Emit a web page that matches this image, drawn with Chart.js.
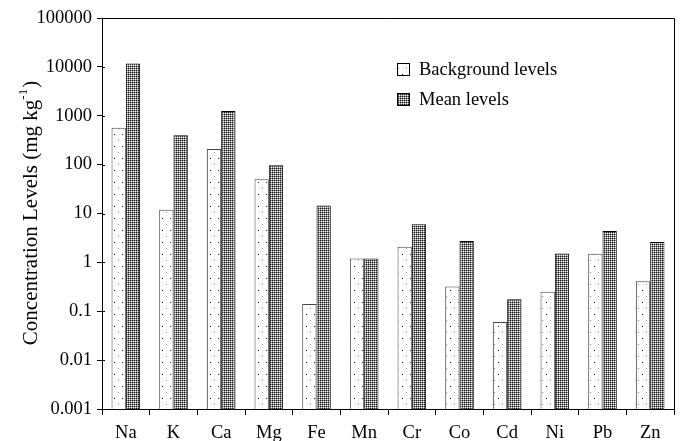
<!DOCTYPE html>
<html>
<head>
<meta charset="utf-8">
<script src="https://cdn.jsdelivr.net/npm/chart.js@4"></script>
<style>
  html, body { margin: 0; padding: 0; background: #fff; }
  #wrap { width: 688px; height: 441px; }
</style>
</head>
<body>
<div id="wrap"><canvas id="barChart" width="688" height="441"></canvas></div>
<script>
// values (mg/kg)
var elements = ["Na", "K", "Ca", "Mg", "Fe", "Mn", "Cr", "Co", "Cd", "Ni", "Pb", "Zn"];
var backgroundLevels = [570, 12, 210, 50, 0.14, 1.2, 2.1, 0.32, 0.06, 0.25, 1.5, 0.41];
var meanLevels = [11700, 400, 1250, 97, 14.5, 1.2, 6.0, 2.75, 0.175, 1.52, 4.4, 2.6];
var yTicks = [0.001, 0.01, 0.1, 1, 10, 100, 1000, 10000, 100000];
var yTickLabels = ["0.001", "0.01", "0.1", "1", "10", "100", "1000", "10000", "100000"];

var FONT = "'Liberation Serif', 'Times New Roman', serif";

// dotted fill for background levels
function dotPattern() {
    var c = document.createElement("canvas");
    c.width = 8; c.height = 12;
    var g = c.getContext("2d");
    g.fillStyle = "#fff";
    g.fillRect(0, 0, 8, 12);
    g.fillStyle = "#222";
    g.fillRect(2, 2, 1, 1);
    g.fillStyle = "#888";
    g.fillRect(6, 8, 1, 1);
    return g.createPattern(c, "repeat");
}

// grey checker fill for mean levels
function checkPattern() {
    var c = document.createElement("canvas");
    c.width = 4; c.height = 4;
    var g = c.getContext("2d");
    g.fillStyle = "#8a8a8a";
    g.fillRect(0, 0, 4, 4);
    g.fillStyle = "#1a1a1a";
    g.fillRect(0, 0, 1, 1); g.fillRect(2, 2, 1, 1);
    g.fillRect(2, 0, 1, 1); g.fillRect(0, 2, 1, 1);
    g.fillStyle = "#f2f2f2";
    g.fillRect(1, 1, 1, 1); g.fillRect(3, 3, 1, 1);
    g.fillRect(3, 1, 1, 1); g.fillRect(1, 3, 1, 1);
    return g.createPattern(c, "repeat");
}

var bgFill = dotPattern();
var meanFill = checkPattern();

var extras = {
    id: "extras",
    afterDraw: function(chart) {
        var ctx = chart.ctx;
        var a = chart.chartArea;
        var ys = chart.scales.y;
        ctx.save();
        ctx.strokeStyle = "#000";
        ctx.lineWidth = 1;
        // top and right frame
        ctx.beginPath();
        ctx.moveTo(a.left, a.top + 0.5);
        ctx.lineTo(a.right + 0.5, a.top + 0.5);
        ctx.lineTo(a.right + 0.5, a.bottom);
        ctx.stroke();
        // inner part of y ticks
        ctx.beginPath();
        ys.ticks.forEach(function(t) {
            var py = Math.round(ys.getPixelForValue(t.value)) + 0.5;
            ctx.moveTo(a.left, py);
            ctx.lineTo(a.left + 3, py);
        });
        ctx.stroke();

        // y title with superscript
        ctx.fillStyle = "#000";
        ctx.translate(37, (a.top + a.bottom) / 2);
        ctx.rotate(-Math.PI / 2);
        var main = "Concentration Levels (mg kg";
        ctx.font = "21px " + FONT;
        var w1 = ctx.measureText(main).width;
        ctx.font = "13px " + FONT;
        var w2 = ctx.measureText("-1").width;
        ctx.font = "21px " + FONT;
        var w3 = ctx.measureText(")").width;
        var x0 = -(w1 + w2 + w3) / 2;
        ctx.textBaseline = "alphabetic";
        ctx.textAlign = "left";
        ctx.fillText(main, x0, 0);
        ctx.font = "13px " + FONT;
        ctx.fillText("-1", x0 + w1, -10);
        ctx.font = "21px " + FONT;
        ctx.fillText(")", x0 + w1 + w2 + 1, 0);
        ctx.restore();

        // legend
        ctx.save();
        var items = [
            { label: chart.data.datasets[0].label, fill: bgFill, y: 63 },
            { label: chart.data.datasets[1].label, fill: meanFill, y: 93 }
        ];
        ctx.font = "18.5px " + FONT;
        ctx.textBaseline = "middle";
        ctx.textAlign = "left";
        items.forEach(function(it) {
            ctx.fillStyle = it.fill;
            ctx.fillRect(397, it.y, 13, 13);
            ctx.strokeStyle = "#000";
            ctx.strokeRect(397.5, it.y + 0.5, 12, 12);
            ctx.fillStyle = "#000";
            ctx.fillText(it.label, 419, it.y + 7);
        });
        ctx.restore();
    }
};

var ctx = document.getElementById("barChart");
var myChart = new Chart(ctx, {
    type: 'bar',
    data: {
        labels: elements,
        datasets: [{
            label: "Background levels",
            data: backgroundLevels,
            backgroundColor: bgFill,
            borderColor: "#444",
            borderWidth: 1,
            borderSkipped: "bottom"
        }, {
            label: "Mean levels",
            data: meanLevels,
            backgroundColor: meanFill,
            borderColor: "#000",
            borderWidth: 1,
            borderSkipped: "bottom"
        }]
    },
    options: {
        responsive: false,
        animation: false,
        devicePixelRatio: 1,
        layout: { padding: { left: 0, right: 14, top: 18, bottom: 0 } },
        datasets: {
            bar: { categoryPercentage: 0.6, barPercentage: 1.0 }
        },
        plugins: {
            legend: { display: false },
            tooltip: { enabled: false }
        },
        scales: {
            x: {
                grid: {
                    offset: true,
                    drawOnChartArea: false,
                    tickLength: 6,
                    color: "#000"
                },
                border: { color: "#000", width: 1 },
                ticks: {
                    color: "#000",
                    font: { family: FONT, size: 18.5 },
                    padding: 7,
                    maxRotation: 0
                },
                afterFit: function(s) { s.height = 32; }
            },
            y: {
                type: 'logarithmic',
                min: 0.001,
                max: 100000,
                grid: {
                    drawOnChartArea: false,
                    tickLength: 5,
                    color: "#000"
                },
                border: { color: "#000", width: 1 },
                ticks: {
                    color: "#000",
                    font: { family: FONT, size: 18.5 },
                    padding: 5,
                    callback: function(v) {
                        var i = yTicks.indexOf(v);
                        return i >= 0 ? yTickLabels[i] : "";
                    }
                },
                afterBuildTicks: function(s) {
                    s.ticks = yTicks.map(function(v) { return { value: v }; });
                },
                afterFit: function(s) { s.width = 102; }
            }
        }
    },
    plugins: [extras]
});
</script>
</body>
</html>
